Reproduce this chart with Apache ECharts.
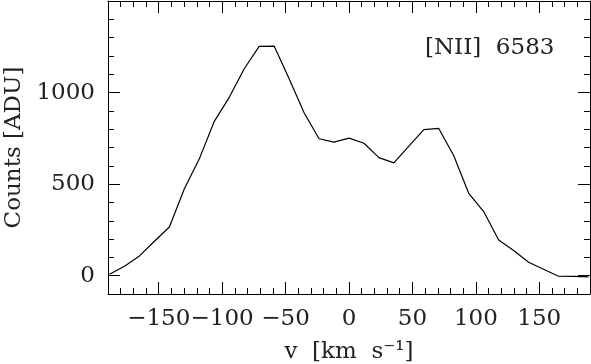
<!DOCTYPE html>
<html>
<head>
<meta charset="utf-8">
<script src="https://cdn.jsdelivr.net/npm/echarts@6/dist/echarts.min.js"></script>
<style>html,body{margin:0;padding:0;background:#fff;}#c{width:591px;height:364px;}</style>
</head>
<body>
<div id="c"></div>
<script>
var velocity = [-188.8, -177, -165.2, -153.4, -141.6, -129.8, -118, -106.2, -94.4, -82.6, -70.8, -59, -47.2, -35.4, -23.6, -11.8, 0, 11.8, 23.6, 35.4, 47.2, 59, 70.8, 82.6, 94.4, 106.2, 118, 129.8, 141.6, 153.4, 165.2, 177, 188.8];
var counts = [8, 52, 108, 188, 266, 475, 638, 843, 974, 1130, 1252, 1254, 1076, 890, 748, 729, 751, 723, 645, 616, 707, 798, 804, 655, 450, 350, 195, 138, 73, 35, -3, -4, -6];
var xMajorTicks = [-150, -100, -50, 0, 50, 100, 150];
var yMajorTicks = [0, 500, 1000];
var lineLabel = '[NII]  6583';
var xTitle = 'v  [km  s\u207B\u00B9]';
var yTitle = 'Counts [ADU]';

var FONT = 'DejaVu Serif';
var FS = 23;
var TXT = '#222';
var XMIN = -190, XMAX = 190, YMIN = -100, YMAX = 1500;

function fmtNum(v) { return v < 0 ? '\u2212' + Math.abs(v) : String(v); }

var lineStyle = { color: '#000', width: 1 };

var xAxes = [
  { // main bottom: major ticks + labels
    type: 'value', position: 'bottom', min: XMIN, max: XMAX,
    axisLine: { show: true, onZero: false, lineStyle: lineStyle },
    axisTick: { show: true, inside: true, length: 12, lineStyle: lineStyle, customValues: xMajorTicks },
    axisLabel: { show: true, customValues: xMajorTicks, formatter: fmtNum, fontFamily: FONT, fontSize: FS, color: TXT, margin: 14, hideOverlap: false, showMinLabel: true, showMaxLabel: true },
    splitLine: { show: false },
    name: xTitle, nameLocation: 'middle', nameGap: 47,
    nameTextStyle: { fontFamily: FONT, fontSize: FS, color: TXT }
  },
  { // bottom minor ticks
    type: 'value', position: 'bottom', min: XMIN, max: XMAX, interval: 10,
    axisLine: { show: false, onZero: false },
    axisTick: { show: true, inside: true, length: 6, lineStyle: lineStyle },
    axisLabel: { show: false }, splitLine: { show: false }
  },
  { // top major
    type: 'value', position: 'top', min: XMIN, max: XMAX,
    axisLine: { show: true, onZero: false, lineStyle: lineStyle },
    axisTick: { show: true, inside: true, length: 12, lineStyle: lineStyle, customValues: xMajorTicks },
    axisLabel: { show: false }, splitLine: { show: false }
  },
  { // top minor
    type: 'value', position: 'top', min: XMIN, max: XMAX, interval: 10,
    axisLine: { show: false, onZero: false },
    axisTick: { show: true, inside: true, length: 6, lineStyle: lineStyle },
    axisLabel: { show: false }, splitLine: { show: false }
  }
];

var yAxes = [
  { // left major + labels
    type: 'value', position: 'left', min: YMIN, max: YMAX,
    axisLine: { show: true, onZero: false, lineStyle: lineStyle },
    axisTick: { show: true, inside: true, length: 12, lineStyle: lineStyle, customValues: yMajorTicks },
    axisLabel: { show: true, customValues: yMajorTicks, formatter: fmtNum, fontFamily: FONT, fontSize: FS, color: TXT, margin: 13, hideOverlap: false, showMinLabel: true },
    splitLine: { show: false },
    name: yTitle, nameLocation: 'middle', nameGap: 80, nameRotate: 90,
    nameTextStyle: { fontFamily: FONT, fontSize: FS, color: TXT }
  },
  { // left minor
    type: 'value', position: 'left', min: YMIN, max: YMAX, interval: 100,
    axisLine: { show: false, onZero: false },
    axisTick: { show: true, inside: true, length: 6, lineStyle: lineStyle },
    axisLabel: { show: false }, splitLine: { show: false }
  },
  { // right major
    type: 'value', position: 'right', min: YMIN, max: YMAX,
    axisLine: { show: true, onZero: false, lineStyle: lineStyle },
    axisTick: { show: true, inside: true, length: 12, lineStyle: lineStyle, customValues: yMajorTicks },
    axisLabel: { show: false }, splitLine: { show: false }
  },
  { // right minor
    type: 'value', position: 'right', min: YMIN, max: YMAX, interval: 100,
    axisLine: { show: false, onZero: false },
    axisTick: { show: true, inside: true, length: 6, lineStyle: lineStyle },
    axisLabel: { show: false }, splitLine: { show: false }
  }
];

var chart = echarts.init(document.getElementById('c'), null, { renderer: 'canvas' });
chart.setOption({
  animation: false,
  backgroundColor: '#fff',
  grid: { left: 108, right: 1, top: 1, bottom: 70, containLabel: false, outerBoundsMode: 'none' },
  xAxis: xAxes,
  yAxis: yAxes,
  series: [{
    type: 'line',
    xAxisIndex: 0, yAxisIndex: 0,
    data: velocity.map(function (v, i) { return [v, counts[i]]; }),
    showSymbol: false, symbol: 'none',
    lineStyle: { color: '#000', width: 1.2 },
    clip: true
  }],
  graphic: [{
    type: 'text', left: 425, top: 37,
    style: { text: lineLabel, fontFamily: FONT, fontSize: FS, fill: TXT }
  }]
});
</script>
</body>
</html>
